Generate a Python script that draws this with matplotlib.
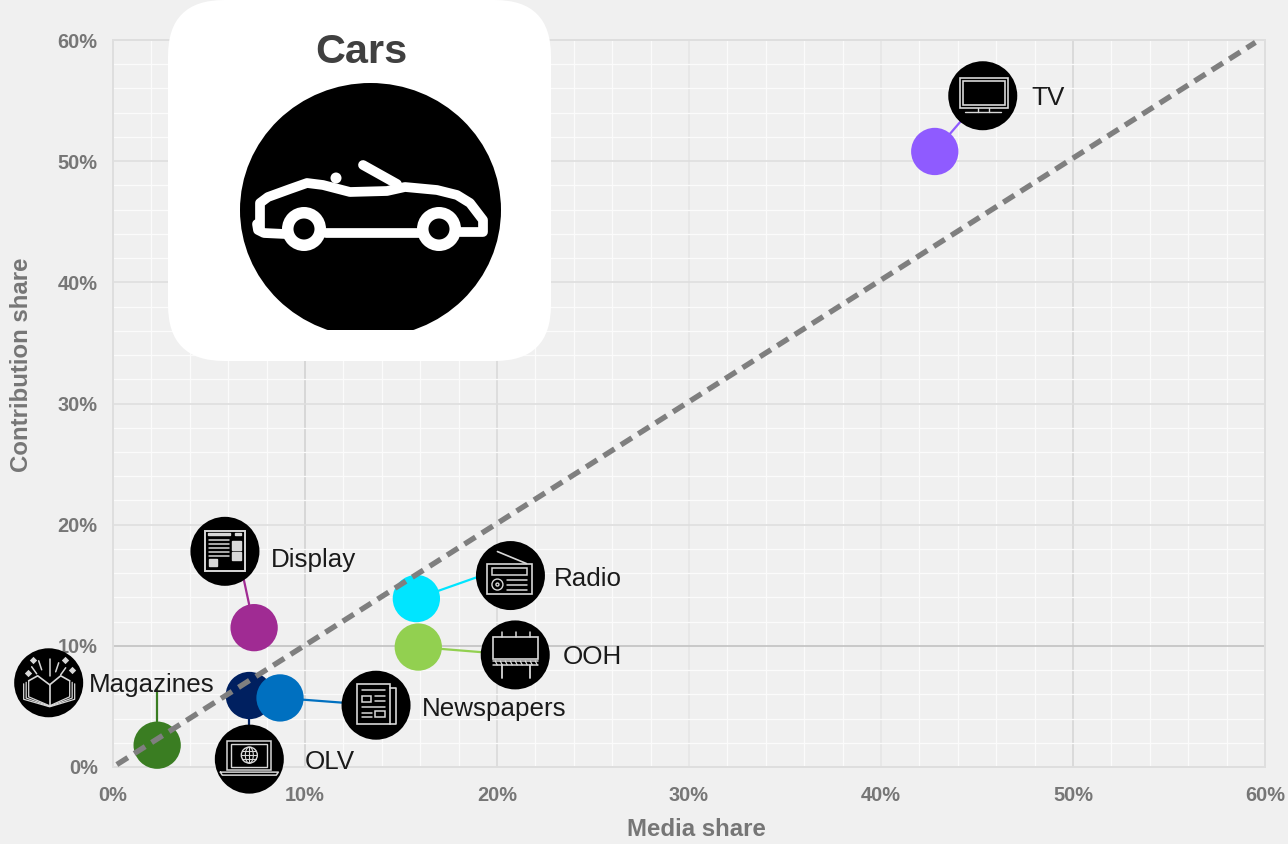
import numpy as np
import matplotlib
matplotlib.use('Agg')
import matplotlib.pyplot as plt
from matplotlib.patches import Circle, Ellipse, FancyBboxPatch, Rectangle

plt.rcParams['font.family'] = ['Liberation Sans', 'DejaVu Sans']

# chart values, in percent
channels = ['TV', 'Display', 'Radio', 'OOH', 'OLV', 'Newspapers', 'Magazines']
media_share = [42.8, 7.35, 15.8, 15.9, 7.1, 8.7, 2.3]
contribution_share = [50.8, 11.5, 13.9, 9.9, 5.9, 5.7, 1.8]
colors = ['#8F5BFF', '#A02B93', '#00E5FF', '#92D050', '#002060', '#0070C0', '#3A7D22']

# where each callout sits, same units as the axes
icon_x = [45.3, 5.83, 20.7, 20.95, 7.1, 13.7, -3.35]
icon_y = [55.4, 17.8, 15.8, 9.25, 0.65, 5.1, 6.95]
# where each connector stops
link_x = [45.3, 6.7, 19.2, 20.95, 7.1, 13.7, 2.3]
link_y = [55.4, 16.3, 15.8, 9.25, 0.65, 5.1, 6.4]
label_left = [1031, 271, 554, 563, 305, 422, 89]
label_mid = [98, 560, 579, 657, 762, 709, 685]

ticks = [0, 10, 20, 30, 40, 50, 60]
tick_labels = ['0%', '10%', '20%', '30%', '40%', '50%', '60%']

W, H = 1288, 844
GLYPH = '#d8d8d8'
TICK_GREY = '#767676'

fig = plt.figure(figsize=(W / 100, H / 100), dpi=100, facecolor='#f0f0f0')
ax = fig.add_axes([113 / W, (H - 767) / H, 1152 / W, 727 / H], facecolor='#f0f0f0')
ax.set_xlim(0, 60)
ax.set_ylim(0, 60)

# grid
ax.set_xticks(ticks)
ax.set_yticks(ticks)
ax.set_xticks(np.arange(0, 61, 2), minor=True)
ax.set_yticks(np.arange(0, 61, 2), minor=True)
ax.grid(which='minor', color='#fbfbfb', lw=0.9, zorder=1)
ax.grid(which='major', color='#dedede', lw=1.2, zorder=1)
ax.set_axisbelow(True)
ax.get_ygridlines()[1].set_color('#c2c2c2')
for i, c in zip([1, 2, 3, 4, 5], ['#d2d2d2', '#dadada', '#e6e6e6', '#e6e6e6', '#d6d6d6']):
    ax.get_xgridlines()[i].set_color(c)
for s in ax.spines.values():
    s.set_color('#dedede')
    s.set_linewidth(1.4)

ax.set_xticklabels(tick_labels)
ax.set_yticklabels(tick_labels)
ax.tick_params(which='both', length=0)
ax.tick_params(axis='x', pad=13.5, labelsize=14.4, labelcolor=TICK_GREY)
ax.tick_params(axis='y', pad=11, labelsize=14.4, labelcolor=TICK_GREY)
for t in ax.get_xticklabels() + ax.get_yticklabels():
    t.set_fontweight('bold')

fig.text(696 / W, 1 - 830 / H, 'Media share', ha='center', va='center',
         fontsize=17.3, fontweight='bold', color=TICK_GREY)
fig.text(22 / W, 1 - 365 / H, 'Contribution share', ha='center', va='center', rotation=90,
         fontsize=17.3, fontweight='bold', color=TICK_GREY)

# connectors
for i, name in enumerate(channels):
    ax.plot([media_share[i], link_x[i]], [contribution_share[i], link_y[i]],
            color=colors[i], lw=1.6, zorder=3, clip_on=False)

ax.scatter(media_share, contribution_share, s=1160, c=colors, linewidths=0, zorder=4, clip_on=False)
ax.plot([0.2, 59.5], [0.2, 59.8], color='#7f7f7f', lw=3.9, dashes=(2.4, 1.4),
        dash_capstyle='butt', zorder=5)

# overlay in pixel coordinates for the card and the pictograms
ov = fig.add_axes([0, 0, 1, 1], facecolor='none')
ov.set_xlim(0, W)
ov.set_ylim(H, 0)
ov.axis('off')


def line(cx, cy, pts, lw=1.0, color=GLYPH):
    pts = np.array(pts, dtype=float)
    ov.plot(cx + pts[:, 0], cy + pts[:, 1], color=color, lw=lw, solid_capstyle='round', zorder=12)


def box(cx, cy, x0, y0, x1, y1, lw=1.0, fill=False):
    ov.add_patch(Rectangle((cx + x0, cy + y0), x1 - x0, y1 - y0, fill=fill, lw=lw,
                           edgecolor=GLYPH, facecolor=GLYPH, zorder=12))


def ring(cx, cy, x, y, r, lw=1.0):
    ov.add_patch(Circle((cx + x, cy + y), r, fill=False, lw=lw, edgecolor=GLYPH, zorder=12))


def draw_tv(cx, cy):
    box(cx, cy, -23, -18, 25, 12, lw=1.2)
    box(cx, cy, -20, -15, 22, 9, lw=1.2)
    line(cx, cy, [(-5, 12), (-5, 16)])
    line(cx, cy, [(6, 12), (6, 16)])
    line(cx, cy, [(-18, 16), (18, 16)])


def draw_display(cx, cy):
    box(cx, cy, -20, -20, 20, 20, lw=1.4)
    box(cx, cy, -17, -18, 5, -16, fill=True)
    box(cx, cy, 10, -18, 16, -16, fill=True)
    box(cx, cy, 7, -10, 16, -1, fill=True)
    box(cx, cy, 7, 1, 16, 9, fill=True)
    box(cx, cy, -16, 8, -8, 15, fill=True)
    for y in [-11, -7, -3, 1, 5]:
        line(cx, cy, [(-16, y), (4, y)], lw=1.1)


def draw_radio(cx, cy):
    line(cx, cy, [(-13, -24), (16, -12)], lw=1.2)
    box(cx, cy, -23, -12, 22, 18, lw=1.2)
    box(cx, cy, -18, -8, 17, -1, lw=1.1)
    ring(cx, cy, -13, 9, 5.5)
    ring(cx, cy, -13, 9, 1.5)
    for y in [4, 9, 14]:
        line(cx, cy, [(-3, y), (17, y)], lw=1.1)


def draw_ooh(cx, cy):
    box(cx, cy, -22, -18, 23, 4, lw=1.2)
    for x in [-13, 1, 15]:
        line(cx, cy, [(x, -23), (x, -18)], lw=1.1)
    line(cx, cy, [(-22, 6), (23, 6)], lw=1.1)
    line(cx, cy, [(-22, 10), (23, 10)], lw=1.1)
    for x in np.arange(-20, 23, 5):
        line(cx, cy, [(x, 6), (x + 2, 10)], lw=0.9)
    line(cx, cy, [(-13, 10), (-13, 23)], lw=1.3)
    line(cx, cy, [(15, 10), (15, 23)], lw=1.3)


def draw_newspaper(cx, cy):
    box(cx, cy, -19, -21, 14, 19, lw=1.2)
    line(cx, cy, [(14, -17), (20, -17), (20, 19), (14, 19)], lw=1.2)
    box(cx, cy, -14, -9, -5, -3, lw=1.1)
    box(cx, cy, -1, 6, 9, 12, lw=1.1)
    line(cx, cy, [(-14, -15), (9, -15)], lw=1.1)
    line(cx, cy, [(-1, -9), (9, -9)], lw=1.1)
    line(cx, cy, [(-1, -4), (9, -4)], lw=1.1)
    line(cx, cy, [(-14, 2), (9, 2)], lw=1.1)
    line(cx, cy, [(-14, 8), (-4, 8)], lw=1.1)
    line(cx, cy, [(-14, 12), (-4, 12)], lw=1.1)


def draw_laptop(cx, cy):
    box(cx, cy, -22, -18, 22, 11, lw=1.1)
    box(cx, cy, -18, -15, 18, 8, lw=1.0)
    ring(cx, cy, 0, -4, 8, lw=1.0)
    ov.add_patch(Ellipse((cx, cy - 4), 8, 16, fill=False, lw=0.8, edgecolor=GLYPH, zorder=12))
    line(cx, cy, [(-8, -4), (8, -4)], lw=0.8)
    line(cx, cy, [(0, -12), (0, 4)], lw=0.8)
    line(cx, cy, [(-7, -8), (7, -8)], lw=0.8)
    line(cx, cy, [(-7, 0), (7, 0)], lw=0.8)
    line(cx, cy, [(-29, 13), (29, 13), (27, 16), (-27, 16), (-29, 13)], lw=1.1)


def draw_book(cx, cy):
    for d in [0, 2.5, 5]:
        line(cx, cy, [(-20 - d, -2 + d * 0.6), (-20 - d, 14 + d * 0.5), (1, 23 + d * 0.2),
                      (21 + d, 14 + d * 0.5), (21 + d, -2 + d * 0.6)], lw=0.9)
    line(cx, cy, [(1, 2), (-11, -7), (-20, -2)], lw=1.2)
    line(cx, cy, [(1, 2), (12, -7), (21, -2)], lw=1.2)
    line(cx, cy, [(1, 2), (1, 23)], lw=1.2)
    rays = [(-17, -16, -12, -9), (-10, -22, -7, -13), (1, -24, 1, -7), (10, -20, 7, -11), (17, -15, 12, -8)]
    for x0, y0, x1, y1 in rays:
        line(cx, cy, [(x0, y0), (x1, y1)], lw=1.1)
    ov.scatter([cx - 21, cx - 16, cx + 16, cx + 23], [cy - 10, cy - 23, cy - 23, cy - 13],
               s=14, marker='D', color=GLYPH, linewidths=0, zorder=12)


drawers = {'TV': draw_tv, 'Display': draw_display, 'Radio': draw_radio, 'OOH': draw_ooh,
           'OLV': draw_laptop, 'Newspapers': draw_newspaper, 'Magazines': draw_book}

fig.canvas.draw()
for i, name in enumerate(channels):
    px, py = ax.transData.transform((icon_x[i], icon_y[i]))
    py = H - py
    ov.add_patch(Circle((px, py), 34.5, facecolor='black', edgecolor='none', zorder=10))
    drawers[name](px, py)
    ov.text(label_left[i], label_mid[i], name, fontsize=18.75, color='#1a1a1a',
            ha='left', va='center', zorder=13)

# card at the top left
r = 56
card = FancyBboxPatch((168 + r, r), 383 - 2 * r, 361 - 2 * r,
                      boxstyle=f'round,pad={r},rounding_size={r}', facecolor='white',
                      edgecolor='none', zorder=20)
ov.add_patch(card)
ov.text(361.5, 52, 'Cars', fontsize=29.8, fontweight='bold', color='#404040',
        ha='center', va='center', zorder=21)

disc = Ellipse((370.5, 210), 261, 254, facecolor='black', edgecolor='none', zorder=21)
ov.add_patch(disc)
disc.set_clip_path(Rectangle((230, 70), 290, 260, transform=ov.transData))

# car outline
body = [(260, 228), (260, 203), (268, 197), (290, 189), (307, 183), (323, 185), (350, 192),
        (387, 191), (405, 187), (437, 190), (457, 195), (470, 203), (483, 220), (483, 232), (460, 232)]
sill = [(326, 233), (420, 233)]
rear = [(257, 224), (258, 230), (264, 233), (285, 234)]
screen = [(363, 165), (397, 184)]
for pts in [body, sill, rear, screen]:
    pts = np.array(pts)
    ov.plot(pts[:, 0], pts[:, 1], color='white', lw=7, solid_capstyle='round',
            solid_joinstyle='round', zorder=22)
ov.add_patch(Circle((336, 178), 5.5, facecolor='white', edgecolor='none', zorder=22))
for wx in [304, 439]:
    ov.add_patch(Circle((wx, 229), 22, facecolor='white', edgecolor='none', zorder=23))
    ov.add_patch(Circle((wx, 229), 10.5, facecolor='black', edgecolor='none', zorder=24))

fig.savefig('out.png', dpi=100, facecolor=fig.get_facecolor())
